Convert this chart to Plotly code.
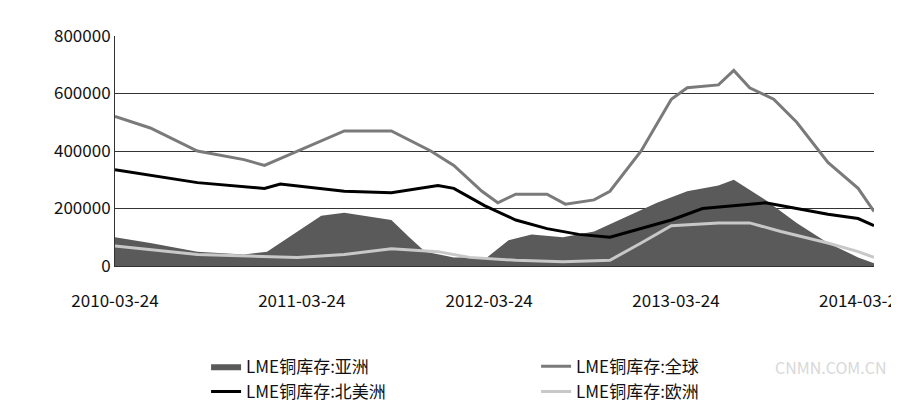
import plotly.graph_objects as go

asia_dates = ["2010-03-24","2010-06-01","2010-09-01","2010-12-01","2011-01-15","2011-03-15","2011-05-01","2011-06-15","2011-08-15","2011-09-15","2011-10-20","2011-11-20","2012-01-15","2012-03-20","2012-05-01","2012-06-15","2012-08-15","2012-10-15","2012-12-15","2013-02-15","2013-04-15","2013-06-15","2013-07-15","2013-09-15","2013-11-15","2014-01-15","2014-03-15","2014-04-15"]
asia = [100000,80000,50000,40000,50000,120000,175000,185000,170000,160000,100000,50000,30000,30000,90000,110000,100000,120000,170000,220000,260000,280000,300000,230000,150000,80000,30000,10000]

glob_dates = ["2010-03-24","2010-06-01","2010-09-01","2010-12-01","2011-01-10","2011-03-15","2011-06-15","2011-09-15","2011-12-01","2012-01-15","2012-03-10","2012-04-10","2012-05-15","2012-07-15","2012-08-20","2012-10-15","2012-11-15","2013-01-15","2013-03-15","2013-04-15","2013-06-15","2013-07-15","2013-08-15","2013-10-01","2013-11-15","2014-01-15","2014-03-15","2014-04-15"]
glob = [520000,480000,400000,370000,350000,400000,470000,470000,400000,350000,260000,220000,250000,250000,215000,230000,260000,400000,580000,620000,630000,680000,620000,580000,500000,360000,270000,190000]

na_dates = ["2010-03-24","2010-09-01","2011-01-10","2011-02-10","2011-06-15","2011-09-15","2011-12-15","2012-01-15","2012-03-15","2012-05-15","2012-07-15","2012-09-15","2012-11-15","2013-01-15","2013-03-15","2013-05-15","2013-07-15","2013-09-15","2013-11-15","2014-01-15","2014-03-15","2014-04-15"]
na = [335000,290000,270000,285000,260000,255000,280000,270000,210000,160000,130000,110000,100000,130000,160000,200000,210000,220000,200000,180000,165000,140000]

eu_dates = ["2010-03-24","2010-09-01","2011-03-15","2011-06-15","2011-09-15","2011-12-15","2012-02-15","2012-05-15","2012-08-15","2012-11-15","2013-01-15","2013-03-15","2013-06-15","2013-08-15","2013-10-15","2014-01-15","2014-03-15","2014-04-15"]
eu = [70000,40000,30000,40000,60000,50000,30000,20000,15000,20000,80000,140000,150000,150000,120000,80000,50000,30000]

tick_dates = ["2010-03-24","2011-03-24","2012-03-24","2013-03-24","2014-03-24"]

fig = go.Figure()
fig.add_trace(go.Scatter(x=asia_dates, y=asia, name="LME铜库存:亚洲", mode="lines",
                         fill="tozeroy", fillcolor="#5a5a5a", line=dict(color="#5a5a5a", width=0)))
fig.add_trace(go.Scatter(x=glob_dates, y=glob, name="LME铜库存:全球", mode="lines",
                         line=dict(color="#7a7a7a", width=3)))
fig.add_trace(go.Scatter(x=na_dates, y=na, name="LME铜库存:北美洲", mode="lines",
                         line=dict(color="#000000", width=3)))
fig.add_trace(go.Scatter(x=eu_dates, y=eu, name="LME铜库存:欧洲", mode="lines",
                         line=dict(color="#c8c8c8", width=3)))

fig.update_layout(
    width=899, height=417, plot_bgcolor="white", paper_bgcolor="white",
    margin=dict(l=107, r=33, t=28, b=159, autoexpand=False),
    font=dict(family="Noto Sans CJK SC", size=16, color="#111"),
    xaxis=dict(range=["2010-03-24", "2014-04-15"], tickvals=tick_dates, ticktext=tick_dates,
               showgrid=False, showline=True, linecolor="#333", ticks="", ticklabelstandoff=20,
               automargin=False, tickfont=dict(size=17)),
    yaxis=dict(range=[0, 800000], tickvals=[0, 200000, 400000, 600000, 800000],
               tickformat="d", showgrid=True, gridcolor="#333", gridwidth=1,
               showline=True, linecolor="#333", zeroline=False, automargin=False,
               tickfont=dict(size=17)),
    showlegend=True,
    legend=dict(orientation="h", x=0.12, y=-0.36, xanchor="left", yanchor="top",
                entrywidth=285, entrywidthmode="pixels", traceorder="normal",
                font=dict(size=17)),
)
fig.add_annotation(text="CNMN.COM.CN", xref="paper", yref="paper", x=1.02, y=-0.5,
                   xanchor="right", showarrow=False, font=dict(size=16, color="#d8d8d8"))
fig.write_html("out.html")
